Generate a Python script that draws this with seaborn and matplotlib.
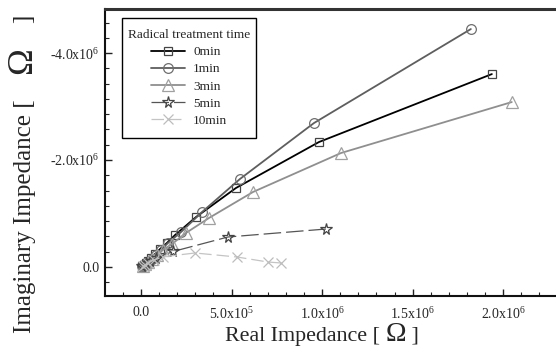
import matplotlib
matplotlib.use("Agg")
import matplotlib.pyplot as plt
import seaborn as sns
import pandas as pd
from matplotlib.patches import Rectangle
from matplotlib.ticker import MultipleLocator, AutoMinorLocator, FuncFormatter

# Nyquist data (real part, -imaginary part), in ohm
re_0min = [1.937e6, 0.982e6, 0.524e6, 0.304e6, 0.188e6, 0.143e6, 0.105e6, 0.077e6, 0.055e6, 0.039e6, 0.028e6, 0.017e6, 0.006e6]
im_0min = [-3.607e6, -2.336e6, -1.477e6, -0.935e6, -0.598e6, -0.449e6, -0.336e6, -0.243e6, -0.168e6, -0.112e6, -0.075e6, -0.037e6, -0.019e6]

re_1min = [1.821e6, 0.955e6, 0.546e6, 0.337e6, 0.221e6, 0.149e6, 0.110e6, 0.083e6, 0.061e6, 0.044e6, 0.028e6, 0.017e6, 0.006e6]
im_1min = [-4.449e6, -2.692e6, -1.645e6, -1.028e6, -0.654e6, -0.449e6, -0.318e6, -0.224e6, -0.150e6, -0.093e6, -0.056e6, -0.028e6, -0.010e6]

re_3min = [2.047e6, 1.104e6, 0.618e6, 0.375e6, 0.248e6, 0.171e6, 0.121e6, 0.088e6, 0.061e6, 0.039e6, 0.022e6, 0.011e6]
im_3min = [-3.084e6, -2.131e6, -1.402e6, -0.916e6, -0.636e6, -0.430e6, -0.318e6, -0.224e6, -0.150e6, -0.093e6, -0.056e6, -0.019e6]

re_5min = [1.021e6, 0.480e6, 0.177e6, 0.083e6, 0.050e6, 0.030e6, 0.018e6, 0.008e6]
im_5min = [-0.710e6, -0.561e6, -0.290e6, -0.168e6, -0.110e6, -0.070e6, -0.040e6, -0.020e6]

re_10min = [0.773e6, 0.701e6, 0.530e6, 0.298e6, 0.120e6, 0.070e6, 0.040e6, 0.020e6, 0.010e6]
im_10min = [-0.075e6, -0.093e6, -0.187e6, -0.262e6, -0.190e6, -0.130e6, -0.080e6, -0.040e6, -0.020e6]

labels = ["0min", "1min", "3min", "5min", "10min"]

sns.set_theme(style="ticks")
plt.rcParams["font.family"] = ["Liberation Serif", "DejaVu Serif"]
plt.rcParams["mathtext.fontset"] = "stix"

W, H = 556, 349
fig = plt.figure(figsize=(W / 100, H / 100), dpi=100)
ax = fig.add_axes([0.1888, 0.1519, 0.818, 0.822])

series = [
    (re_0min, im_0min, dict(color="#000000", marker="s", ms=6, mec="#444444", lw=1.3, ls="-")),
    (re_1min, im_1min, dict(color="#5e5e5e", marker="o", ms=7, mec="#6e6e6e", lw=1.3, ls="-")),
    (re_3min, im_3min, dict(color="#8f8f8f", marker="^", ms=8.5, mec="#a0a0a0", lw=1.3, ls="-")),
    (re_5min, im_5min, dict(color="#555555", marker="*", ms=8.5, mec="#444444", lw=0.9, ls=(0, (14, 4)))),
    (re_10min, im_10min, dict(color="#c4c4c4", marker="x", ms=7, mec="#bdbdbd", lw=0.9, ls=(0, (10, 4)))),
]

for (xs, ys, st), lab in zip(series, labels):
    df = pd.DataFrame({"re": xs, "im": ys})
    sns.lineplot(data=df, x="re", y="im", ax=ax, sort=False, label=lab,
                 color=st["color"], marker=st["marker"], markersize=st["ms"],
                 markerfacecolor="none", markeredgecolor=st["mec"],
                 markeredgewidth=0.9, linewidth=st["lw"], linestyle=st["ls"])

ax.set_xlim(-0.199e6, 2.312e6)
ax.set_ylim(0.542e6, -4.822e6)

ax.xaxis.set_major_locator(MultipleLocator(5e5))
ax.xaxis.set_minor_locator(MultipleLocator(1e5))
ax.yaxis.set_major_locator(MultipleLocator(2e6))
ax.yaxis.set_minor_locator(AutoMinorLocator(7))


def sci_fmt(v, pos):
    if abs(v) < 1:
        return "0.0"
    exp = len(str(int(abs(v)))) - 1
    mant = abs(v) / 10 ** exp
    sign = "-" if v < 0 else ""
    return sign + r"$\mathregular{%.1fx10^{%d}}$" % (mant, exp)


ax.xaxis.set_major_formatter(FuncFormatter(sci_fmt))
ax.yaxis.set_major_formatter(FuncFormatter(sci_fmt))

ax.tick_params(axis="both", which="major", direction="in", length=5, width=1,
               labelsize=10, color="#222222", pad=7)
ax.tick_params(axis="y", which="major", pad=4)
ax.tick_params(axis="both", which="minor", direction="in", length=3, width=0.8,
               color="#222222")
ax.tick_params(top=False, right=False, which="both")

for side in ["left", "bottom"]:
    ax.spines[side].set_linewidth(1.5)
    ax.spines[side].set_color("#111111")
ax.spines["top"].set_linewidth(2.2)
ax.spines["top"].set_color("#333333")
ax.spines["right"].set_visible(False)

ax.set_xlabel("")
ax.set_ylabel("")

# axis titles in pieces so the ohm sign can be drawn larger, as in the original
renderer = fig.canvas.get_renderer()


def label_pieces(parts, x0, y0, rot):
    # parts: list of (text, fontsize); x0, y0 in pixels from the top-left
    px, py = x0, H - y0
    for txt, fs in parts:
        t = fig.text(px / W, py / H, txt, fontsize=fs, rotation=rot,
                     rotation_mode="anchor", ha="left", va="baseline")
        bb = t.get_window_extent(renderer)
        if rot == 0:
            px = bb.x1
        else:
            py = bb.y1


label_pieces([("Real Impedance [ ", 15.8), ("Ω", 20), (" ]", 15.8)], 225, 341, 0)
label_pieces([("Imaginary Impedance [    ", 18), ("Ω", 26), ("    ]", 18)], 31, 333, 90)

# legend without its own frame; the box is drawn with more room above and below
leg = ax.legend(title="Radical treatment time", loc="upper left",
                bbox_to_anchor=((128 - 105) / 455, 1 - (29 - 9) / 287),
                borderaxespad=0, borderpad=0,
                fontsize=9.6, title_fontsize=9.6, frameon=False,
                handlelength=2.6, handletextpad=0.6, labelspacing=0.36)
lb = leg.get_window_extent(renderer)
fig.add_artist(Rectangle((lb.x0 - 6, lb.y0 - 11), lb.width + 12, lb.height + 22,
                         transform=None, fill=False, edgecolor="#000000",
                         linewidth=1.0, zorder=4))

fig.savefig("out.png", dpi=100)
